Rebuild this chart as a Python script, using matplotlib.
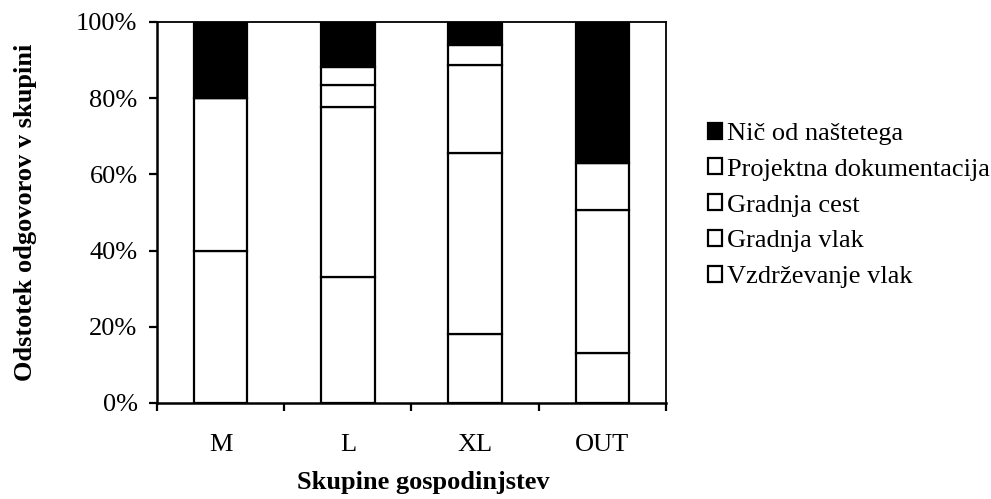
import numpy as np
import matplotlib
matplotlib.use('Agg')
import matplotlib.pyplot as plt
from matplotlib.patches import Patch

# data (percent of answers in each group), bottom to top
groups = ['M', 'L', 'XL', 'OUT']
vzdrzevanje_vlak = [40.0, 33.0, 18.0, 13.0]
gradnja_vlak = [40.0, 44.7, 47.5, 37.7]
gradnja_cest = [0.0, 5.8, 23.2, 12.3]
projektna_dok = [0.0, 4.7, 5.3, 0.0]
nic_od_nastetega = [20.0, 11.8, 6.0, 37.0]

series = [
    ('Vzdrževanje vlak', vzdrzevanje_vlak, 'white'),
    ('Gradnja vlak', gradnja_vlak, 'white'),
    ('Gradnja cest', gradnja_cest, 'white'),
    ('Projektna dokumentacija', projektna_dok, 'white'),
    ('Nič od naštetega', nic_od_nastetega, 'black'),
]

plt.rcParams['font.family'] = ['Liberation Serif', 'DejaVu Serif']
fs = 19

fig = plt.figure(figsize=(9.91, 4.99), dpi=100)
ax = fig.add_axes([0.1584, 0.1924, 0.5136, 0.7636])

x = np.arange(len(groups))
bottom = np.zeros(len(groups))
for name, vals, col in series:
    vals = np.array(vals)
    ax.bar(x, vals, 0.42, bottom=bottom, color=col, edgecolor='black',
           linewidth=1.6, label=name)
    bottom += vals

ax.set_xlim(-0.5, 3.5)
ax.set_ylim(0, 100)
ax.set_yticks(np.arange(0, 101, 20))
ax.set_yticklabels([f'{v}%' for v in range(0, 101, 20)], fontsize=fs)
ax.set_xticks(x)
ax.set_xticklabels(groups, fontsize=fs)
ax.tick_params(axis='x', which='major', length=0, pad=22)
ax.set_xticks([-0.5, 0.5, 1.5, 2.5, 3.5], minor=True)
ax.tick_params(axis='x', which='minor', direction='out', length=6, width=1.6)
ax.tick_params(axis='y', direction='out', length=6, width=1.6, pad=8)

for side in ['left', 'bottom']:
    ax.spines[side].set_linewidth(1.8)
for side in ['top', 'right']:
    ax.spines[side].set_linewidth(1.3)

ax.set_ylabel('Odstotek odgovorov v skupini', fontsize=fs, fontweight='bold')
ax.yaxis.set_label_coords(-0.235, 0.5)
ax.set_xlabel('Skupine gospodinjstev', fontsize=fs, fontweight='bold')
ax.xaxis.set_label_coords(0.523, -0.178)

handles = [Patch(facecolor=col, edgecolor='black', linewidth=1.6, label=name)
           for name, vals, col in series[::-1]]
fig.legend(handles=handles, loc='upper left', bbox_to_anchor=(0.714, 0.754),
           frameon=False, fontsize=fs, handlelength=0.55, handleheight=0.55,
           handletextpad=0.2, labelspacing=0.51, borderaxespad=0,
           borderpad=0)

fig.savefig('out.png', dpi=100)
